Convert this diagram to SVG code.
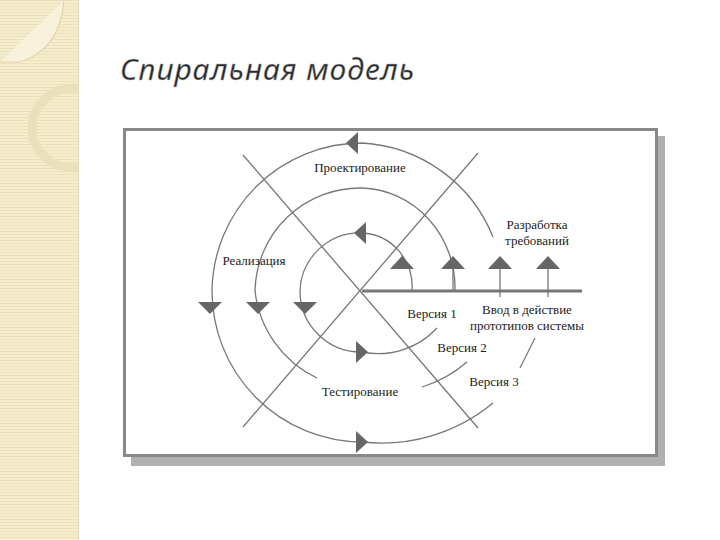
<svg xmlns="http://www.w3.org/2000/svg" width="720" height="540" viewBox="0 0 720 540">
<defs>
<pattern id="stripes" width="4" height="3" patternUnits="userSpaceOnUse"><rect width="4" height="3" fill="#f6edcf"/><rect width="4" height="1" fill="#ece0b8"/></pattern>
<clipPath id="strip"><rect x="0" y="0" width="78" height="540"/></clipPath>
</defs>
<style>
.l{fill:none;stroke:#777;stroke-width:1.3}
.a{fill:#666}
.t{font-family:"Liberation Serif",serif;font-size:13px;fill:#222}
</style>
<rect width="720" height="540" fill="#fff"/>
<g id="decor" clip-path="url(#strip)">
<rect x="0" y="0" width="78" height="540" fill="url(#stripes)"/>
<path d="M0 62 L20 62 Q60 50 64 0" fill="#f8f1dc" stroke="#e3d5aa" stroke-width="1.2"/>
<circle cx="72" cy="128" r="40" fill="none" stroke="#ebe0bb" stroke-width="9"/>
</g>
<line x1="78.5" y1="0" x2="78.5" y2="540" stroke="#e6dcbc"/>
<text x="120" y="80" font-family="'Noto Sans',sans-serif" font-style="italic" font-size="30" fill="#2a2a2a" stroke="#bbb" stroke-width="0.4" letter-spacing="1">Спиральная модель</text>
<g id="frame">
<rect x="131" y="136" width="534" height="330" fill="#b0b0b0"/>
<rect x="124.5" y="129.5" width="532" height="326" fill="#fff" stroke="#888" stroke-width="3"/>
</g>
<g id="connectors">
<line x1="243" y1="155" x2="478" y2="428" class="l"/>
<line x1="243" y1="427" x2="478" y2="153" class="l"/>
<line x1="362" y1="291" x2="582" y2="291" stroke="#777" stroke-width="3"/>
<path class="l" d="M412 291 A52 54 0 0 0 362 233 A60 60 0 0 0 300 291 A61 61 0 0 0 362 352 A80 80 0 0 0 437 328"/>
<path class="l" d="M455 291 A96 100 0 0 0 362 188 A105 105 0 0 0 255 291 A110 110 0 0 0 317 378"/>
<path class="l" d="M422 387 A125 125 0 0 0 467 362"/>
<path class="l" d="M493 237 A150 150 0 0 0 362 143 A150 150 0 0 0 212 291 A151 151 0 0 0 362 442 A175 175 0 0 0 493 403"/>
<path class="l" d="M520 368 L535 338"/>
<line x1="453" y1="268" x2="453" y2="291" class="l"/>
<line x1="500" y1="268" x2="500" y2="297" class="l"/>
<line x1="548" y1="268" x2="548" y2="297" class="l"/>
</g>
<g id="arrows">
<polygon class="a" points="390,269 402,256 414,269"/>
<polygon class="a" points="441,269 453,256 465,269"/>
<polygon class="a" points="488,269 500,256 512,269"/>
<polygon class="a" points="536,269 548,256 560,269"/>
<polygon class="a" points="198,302 210,314 222,302"/>
<polygon class="a" points="246,302 258,314 270,302"/>
<polygon class="a" points="293,302 305,314 317,302"/>
<polygon class="a" points="358,132 346,143 358,154"/>
<polygon class="a" points="366,222 354,233 366,244"/>
<polygon class="a" points="356,341 368,352 356,363"/>
<polygon class="a" points="356,431 368,442 356,453"/>
</g>
<g id="labels">
<text class="t" x="360" y="172" text-anchor="middle">Проектирование</text>
<text class="t" x="254" y="265" text-anchor="middle">Реализация</text>
<text class="t" x="537" y="229" text-anchor="middle">Разработка</text>
<text class="t" x="537" y="245" text-anchor="middle">требований</text>
<text class="t" x="432" y="318" text-anchor="middle">Версия 1</text>
<text class="t" x="527" y="314" text-anchor="middle">Ввод в действие</text>
<text class="t" x="527" y="330" text-anchor="middle">прототипов системы</text>
<text class="t" x="462" y="352" text-anchor="middle">Версия 2</text>
<text class="t" x="360" y="396" text-anchor="middle">Тестирование</text>
<text class="t" x="494" y="386" text-anchor="middle">Версия 3</text>
</g>
</svg>
